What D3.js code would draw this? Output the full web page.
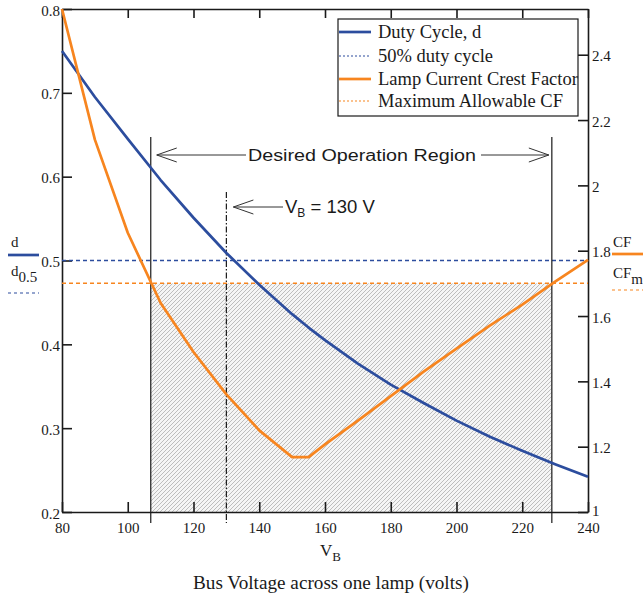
<!DOCTYPE html>
<html>
<head>
<meta charset="utf-8">
<script src="https://cdn.jsdelivr.net/npm/d3@7"></script>
<style>
  html, body { margin: 0; padding: 0; background: #fff; }
  svg { display: block; }
  .serif { font-family: "Liberation Serif", "Times New Roman", serif; fill: #1a1a1a; }
  .sans { font-family: "Liberation Sans", Arial, sans-serif; fill: #1a1a1a; }
</style>
</head>
<body>
<svg id="chart" width="643" height="599"></svg>
<script>
// Bus voltage samples (V) and the two computed curves
const voltage     = [80, 90, 100, 110, 120, 130, 140, 150, 155, 160, 170, 180, 190, 200, 210, 220, 230, 240];
const dutyCycle   = [0.750, 0.695, 0.645, 0.596, 0.551, 0.509, 0.471, 0.436, 0.420, 0.405, 0.377, 0.352, 0.330, 0.309, 0.290, 0.273, 0.257, 0.242];
const crestFactor = [2.54, 2.14, 1.855, 1.64, 1.49, 1.36, 1.25, 1.168, 1.168, 1.207, 1.28, 1.355, 1.43, 1.50, 1.57, 1.635, 1.705, 1.772];

// Reference levels and the operating window
const dutyRef      = 0.5;
const crestMax     = 1.7;
const regionBounds = [107, 229];
const markerV      = 130;

// Axis ticks
const xTicks  = [80, 100, 120, 140, 160, 180, 200, 220, 240];
const dTicks  = [0.2, 0.3, 0.4, 0.5, 0.6, 0.7, 0.8];
const cfTicks = [1, 1.2, 1.4, 1.6, 1.8, 2, 2.2, 2.4];

// Legend entries
const legendLabels = ["Duty Cycle, d", "50% duty cycle", "Lamp Current Crest Factor", "Maximum Allowable CF"];

const BLUE = "#2c4d9e", ORANGE = "#f7851f", INK = "#1a1a1a";
const plot = { left: 62, right: 588, top: 9, bottom: 512 };

const svg = d3.select("#chart");

const x   = d3.scaleLinear().domain([80, 240]).range([plot.left, plot.right]);
const yD  = d3.scaleLinear().domain([0.2, 0.8]).range([plot.bottom, plot.top]);
const yCF = d3.scaleLinear().domain([1, 2.54]).range([plot.bottom, plot.top]);

// Hatch pattern for the operating window
const defs = svg.append("defs");
const pat = defs.append("pattern")
  .attr("id", "hatch").attr("patternUnits", "userSpaceOnUse")
  .attr("width", 4).attr("height", 4);
pat.append("rect").attr("width", 4).attr("height", 4).attr("fill", "#f5f5f5");
pat.append("path").attr("d", "M-1,1 L1,-1 M0,4 L4,0 M3,5 L5,3")
  .attr("stroke", "#b4b4b4").attr("stroke-width", 0.85);

svg.append("rect")
  .attr("x", x(regionBounds[0]))
  .attr("y", yCF(crestMax))
  .attr("width", x(regionBounds[1]) - x(regionBounds[0]))
  .attr("height", yD(0.2) - yCF(crestMax))
  .attr("fill", "url(#hatch)");

// Axes: ticks point into the plot area
const fmtD = d3.format(".1f");
const fmtCF = d => String(+d.toFixed(1));

const styleAxis = g => {
  g.selectAll(".domain").attr("stroke", INK).attr("stroke-width", 1.6);
  g.selectAll(".tick line").attr("stroke", INK).attr("stroke-width", 1.6);
  g.selectAll(".tick text").attr("class", "serif").style("font-size", "15px").attr("fill", INK);
};

svg.append("g").attr("transform", `translate(${plot.left},0)`)
  .call(d3.axisLeft(yD).tickValues(dTicks).tickFormat(fmtD).tickSize(-10).tickSizeOuter(0).tickPadding(2))
  .call(styleAxis)
  .call(g => g.selectAll(".tick text").attr("dy", "0.40em"));

svg.append("g").attr("transform", `translate(${plot.right},0)`)
  .call(d3.axisRight(yCF).tickValues(cfTicks).tickFormat(fmtCF).tickSize(-10).tickSizeOuter(0).tickPadding(4))
  .call(styleAxis)
  .call(g => g.selectAll(".tick text").attr("dy", d => d === 1 ? "0.22em" : "0.40em"));

svg.append("g").attr("transform", `translate(0,${plot.bottom})`)
  .call(d3.axisBottom(x).tickValues(xTicks).tickFormat(d3.format("d")).tickSize(-10).tickSizeOuter(0).tickPadding(10))
  .call(styleAxis);

svg.append("g").attr("transform", `translate(0,${plot.top})`)
  .call(d3.axisTop(x).tickValues(xTicks).tickFormat("").tickSize(-9).tickSizeOuter(0))
  .call(styleAxis);

// Reference lines
svg.append("line")
  .attr("x1", plot.left).attr("x2", plot.right)
  .attr("y1", yD(dutyRef)).attr("y2", yD(dutyRef))
  .attr("stroke", BLUE).attr("stroke-width", 1.5).attr("stroke-dasharray", "4,3");
svg.append("line")
  .attr("x1", plot.left).attr("x2", plot.right)
  .attr("y1", yCF(crestMax)).attr("y2", yCF(crestMax))
  .attr("stroke", ORANGE).attr("stroke-width", 1.5).attr("stroke-dasharray", "4,3");

// Operating window boundaries and the 130 V marker
regionBounds.forEach(v => {
  svg.append("line")
    .attr("x1", x(v)).attr("x2", x(v)).attr("y1", 137).attr("y2", 523)
    .attr("stroke", INK).attr("stroke-width", 1.2);
});
svg.append("line")
  .attr("x1", x(markerV)).attr("x2", x(markerV)).attr("y1", 192).attr("y2", 523)
  .attr("stroke", INK).attr("stroke-width", 1.2).attr("stroke-dasharray", "6,2,1.5,2");

// Curves
const pts = voltage.map((v, i) => ({ v, d: dutyCycle[i], cf: crestFactor[i] }));
svg.append("path").datum(pts)
  .attr("fill", "none").attr("stroke", BLUE).attr("stroke-width", 2.7).attr("stroke-linejoin", "round")
  .attr("d", d3.line().x(p => x(p.v)).y(p => yD(p.d)));
svg.append("path").datum(pts)
  .attr("fill", "none").attr("stroke", ORANGE).attr("stroke-width", 2.7).attr("stroke-linejoin", "round")
  .attr("d", d3.line().x(p => x(p.v)).y(p => yCF(p.cf)));

// Open arrowheads
function arrow(x1, x2, y) {
  const dir = Math.sign(x2 - x1);
  svg.append("line").attr("x1", x1).attr("x2", x2).attr("y1", y).attr("y2", y)
    .attr("stroke", "#333").attr("stroke-width", 1);
  svg.append("path")
    .attr("d", `M${x2 - dir * 20},${y - 7} L${x2},${y} L${x2 - dir * 20},${y + 7}`)
    .attr("fill", "none").attr("stroke", "#333").attr("stroke-width", 1);
}

const regionY = 155;
arrow(246, x(regionBounds[0]) + 6, regionY);
arrow(481, x(regionBounds[1]) - 3, regionY);
svg.append("text").attr("class", "sans")
  .attr("x", 362).attr("y", regionY + 6).attr("text-anchor", "middle")
  .style("font-size", "16px")
  .attr("textLength", 228).attr("lengthAdjust", "spacingAndGlyphs")
  .text("Desired Operation Region");

const markY = 207;
arrow(283, x(markerV) + 7, markY);
const vb = svg.append("text").attr("class", "sans")
  .attr("x", 285).attr("y", markY + 6).style("font-size", "18.5px");
vb.append("tspan").text("V");
vb.append("tspan").attr("dy", 4).style("font-size", "12px").text("B");
vb.append("tspan").attr("dy", -4).text(" = 130 V");

// Legend box
const lg = svg.append("g");
lg.append("rect").attr("x", 338).attr("y", 19).attr("width", 240).attr("height", 97)
  .attr("fill", "#fff").attr("stroke", INK).attr("stroke-width", 1.2);
const legendStyles = [
  { color: BLUE, w: 2.7, dash: null },
  { color: BLUE, w: 1.2, dash: "2,2" },
  { color: ORANGE, w: 2.7, dash: null },
  { color: ORANGE, w: 1.2, dash: "2,2" }
];
const rowY = [32, 56, 79, 101];
legendLabels.forEach((label, i) => {
  const s = legendStyles[i];
  lg.append("line").attr("x1", 339).attr("x2", 371).attr("y1", rowY[i]).attr("y2", rowY[i])
    .attr("stroke", s.color).attr("stroke-width", s.w).attr("stroke-dasharray", s.dash);
  lg.append("text").attr("class", "serif").attr("x", 378).attr("y", rowY[i] + 6)
    .style("font-size", "18.5px").text(label);
});

// Side keys for each axis
svg.append("text").attr("class", "serif").attr("x", 11).attr("y", 247).style("font-size", "15px").text("d");
svg.append("line").attr("x1", 8).attr("x2", 39).attr("y1", 255).attr("y2", 255)
  .attr("stroke", BLUE).attr("stroke-width", 2.7);
const d05 = svg.append("text").attr("class", "serif").attr("x", 11).attr("y", 276).style("font-size", "15px");
d05.append("tspan").text("d");
d05.append("tspan").attr("dy", 6).text("0.5");
svg.append("line").attr("x1", 8).attr("x2", 39).attr("y1", 293).attr("y2", 293)
  .attr("stroke", BLUE).attr("stroke-width", 1.2).attr("stroke-dasharray", "3,3");

svg.append("text").attr("class", "serif").attr("x", 613).attr("y", 247).style("font-size", "15px").text("CF");
svg.append("line").attr("x1", 612).attr("x2", 643).attr("y1", 254).attr("y2", 254)
  .attr("stroke", ORANGE).attr("stroke-width", 2.7);
const cfm = svg.append("text").attr("class", "serif").attr("x", 613).attr("y", 278).style("font-size", "15px");
cfm.append("tspan").text("CF");
cfm.append("tspan").attr("dy", 6).text("m");
svg.append("line").attr("x1", 612).attr("x2", 643).attr("y1", 290).attr("y2", 290)
  .attr("stroke", ORANGE).attr("stroke-width", 1.2).attr("stroke-dasharray", "3,3");

// Axis titles
const xt = svg.append("text").attr("class", "serif").attr("x", 320).attr("y", 556).style("font-size", "17px");
xt.append("tspan").text("V");
xt.append("tspan").attr("dy", 5).style("font-size", "13px").text("B");

svg.append("text").attr("class", "serif").attr("x", 193).attr("y", 589)
  .style("font-size", "19.2px").text("Bus Voltage across one lamp (volts)");
</script>
</body>
</html>
